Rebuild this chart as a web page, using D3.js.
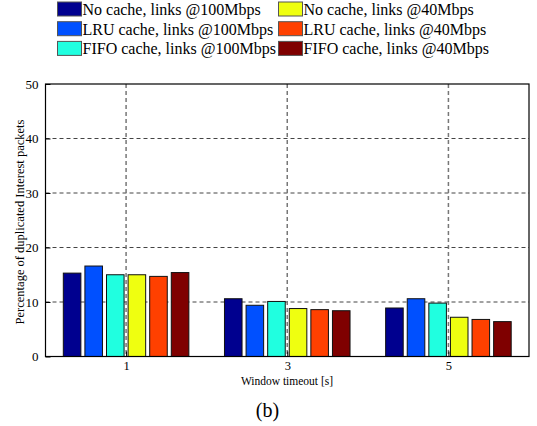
<!DOCTYPE html>
<html>
<head>
<meta charset="utf-8">
<script src="https://cdn.jsdelivr.net/npm/d3@7"></script>
<style>
  html, body { margin: 0; padding: 0; background: #fff; }
  svg { display: block; }
  svg text { font-family: "Liberation Serif", "Times New Roman", Times, "DejaVu Serif", serif; fill: #000; }
</style>
</head>
<body>
<script>
// Window timeouts (s) on the x axis
const timeouts = [1, 3, 5];
// Six configurations, in drawing order
const seriesNames = [
  "No cache, links @100Mbps",
  "LRU cache, links @100Mbps",
  "FIFO cache, links @100Mbps",
  "No cache, links @40Mbps",
  "LRU cache, links @40Mbps",
  "FIFO cache, links @40Mbps"
];
const seriesColors = ["#00008f", "#0050ff", "#20ffe0", "#efff10", "#ff4000", "#7f0000"];
// Percentage of duplicated Interest packets, one array per configuration (values at 1, 3, 5 s)
const noCache100 = [15.3, 10.6, 8.9];
const lru100     = [16.6, 9.4, 10.6];
const fifo100    = [15.0, 10.1, 9.8];
const noCache40  = [15.0, 8.8, 7.2];
const lru40      = [14.7, 8.6, 6.8];
const fifo40     = [15.4, 8.4, 6.4];
const series = [noCache100, lru100, fifo100, noCache40, lru40, fifo40];
const yTicks = [0, 10, 20, 30, 40, 50];

const SERIF = "'Liberation Serif', 'Times New Roman', Times, 'DejaVu Serif', serif";
const W = 537, H = 426;
const svg = d3.select("body").append("svg").attr("width", W).attr("height", H)
  .attr("font-family", SERIF);

const plotL = 45.5, plotR = 529, plotT = 84, plotB = 356.5;
const x = d3.scaleLinear().domain([0, 6]).range([plotL, plotR]);
const y = d3.scaleLinear().domain([0, 50]).range([plotB, plotT]);

// Grid (dashed)
const grid = svg.append("g").attr("stroke", "#444").attr("stroke-width", 1)
  .attr("stroke-dasharray", "4,3").attr("fill", "none");
yTicks.filter(t => t > 0 && t < 50).forEach(t => {
  grid.append("line").attr("x1", plotL).attr("x2", plotR).attr("y1", y(t)).attr("y2", y(t));
});
timeouts.forEach(t => {
  grid.append("line").attr("x1", x(t)).attr("x2", x(t)).attr("y1", plotT).attr("y2", plotB)
    .attr("stroke", "#777").attr("stroke-width", 1.5);
});

// Bars
const pitch = 0.268, barW = 0.218;
series.forEach((vals, i) => {
  svg.append("g").selectAll("rect").data(vals).join("rect")
    .attr("x", (d, j) => x(timeouts[j] + (i - 2.5) * pitch - barW / 2))
    .attr("width", x(barW) - x(0))
    .attr("y", d => y(d))
    .attr("height", d => y(0) - y(d))
    .attr("fill", seriesColors[i])
    .attr("stroke", "#111")
    .attr("stroke-width", 1);
});

// Axes box
svg.append("rect").attr("x", plotL).attr("y", plotT)
  .attr("width", plotR - plotL).attr("height", plotB - plotT)
  .attr("fill", "none").attr("stroke", "#000").attr("stroke-width", 1.2);

// Y axis ticks & labels
const yAxis = d3.axisLeft(y).tickValues(yTicks).tickFormat(d3.format("d")).tickSize(-5).tickPadding(7);
const ya = svg.append("g").attr("transform", `translate(${plotL},0)`).call(yAxis)
  .attr("font-family", SERIF).attr("font-size", 13);
ya.select(".domain").remove();
ya.selectAll("line").attr("stroke", "#000");

// X axis ticks & labels
const xAxis = d3.axisBottom(x).tickValues(timeouts).tickFormat(d3.format("d")).tickSize(-5).tickPadding(5);
const xa = svg.append("g").attr("transform", `translate(0,${plotB})`).call(xAxis)
  .attr("font-family", SERIF).attr("font-size", 12.5);
xa.select(".domain").remove();
xa.selectAll("line").attr("stroke", "#000");

// Axis titles
svg.append("text").attr("x", 287).attr("y", 384.5).attr("text-anchor", "middle")
  .attr("font-size", 11.5).text("Window timeout [s]");
svg.append("text").attr("transform", "translate(24,222) rotate(-90)").attr("text-anchor", "middle")
  .attr("font-size", 12.5).text("Percentage of duplicated Interest packets");

// Caption
svg.append("text").attr("x", 267.5).attr("y", 417).attr("text-anchor", "middle")
  .attr("font-size", 20).text("(b)");

// Legend: two columns of three
const leg = svg.append("g");
seriesNames.forEach((name, i) => {
  const col = Math.floor(i / 3), row = i % 3;
  const bx = col === 0 ? 57.5 : 278.5, by = 2 + row * 19.7;
  leg.append("rect").attr("x", bx).attr("y", by).attr("width", 24).attr("height", 14)
    .attr("fill", seriesColors[i]).attr("stroke", "#555").attr("stroke-width", 1);
  leg.append("text").attr("x", bx + 25).attr("y", by + 13)
    .attr("font-size", 16).text(name);
});
</script>
</body>
</html>
